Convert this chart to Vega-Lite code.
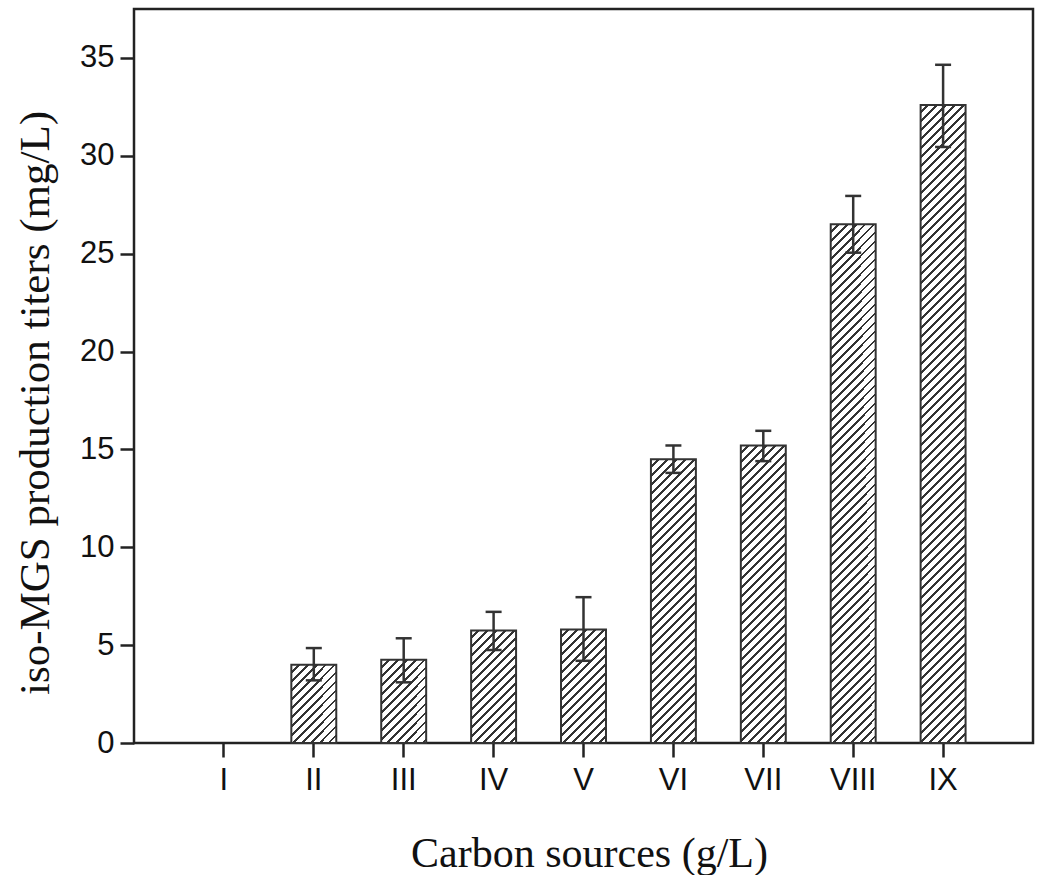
{
"$schema":"https://vega.github.io/schema/vega-lite/v6.json",
"autosize":{"type":"none"},
"padding":{"left":134,"top":9,"right":17,"bottom":132},
"width":899,
"height":734,
"background":"white",
"data":{"values":[
{"cat":"I","value":0,"low":null,"high":null},
{"cat":"II","value":4.0,"low":3.2,"high":4.85},
{"cat":"III","value":4.25,"low":3.1,"high":5.35},
{"cat":"IV","value":5.75,"low":4.75,"high":6.7},
{"cat":"V","value":5.8,"low":4.2,"high":7.45},
{"cat":"VI","value":14.5,"low":13.8,"high":15.2},
{"cat":"VII","value":15.2,"low":14.4,"high":15.95},
{"cat":"VIII","value":26.5,"low":25.05,"high":27.95},
{"cat":"IX","value":32.6,"low":30.45,"high":34.65}
]},
"encoding":{
"x":{"field":"cat","type":"nominal","sort":null,"scale":{"domain":["I","II","III","IV","V","VI","VII","VIII","IX"],"paddingInner":0.5,"paddingOuter":0.75},
"axis":{"title":"Carbon sources (g/L)","labelAngle":0,"titleX":455,"titleY":123,"titleBaseline":"alphabetic","titleAlign":"center","labelPadding":8}},
"y":{"field":"value","type":"quantitative","scale":{"domain":[0,37.5],"nice":false},
"axis":{"title":"iso-MGS production titers (mg/L)","values":[0,5,10,15,20,25,30,35],"titleX":-86,"titleY":393.5,"titleBaseline":"alphabetic","titleAlign":"center","titleFontSize":43,"labelPadding":6}}
},
"layer":[
{"transform":[{"filter":"datum.cat==='II'"}],"mark":{"type":"bar","stroke":"#333","strokeWidth":2,"fill":{"gradient":"linear","x1":0,"y1":0,"x2":3.973,"y2":6.913,"stops":[
{"offset":0,"color":"#fff"},{"offset":0.00875,"color":"#fff"},{"offset":0.00875,"color":"#333"},{"offset":0.0125,"color":"#333"},
{"offset":0.0125,"color":"#fff"},{"offset":0.02125,"color":"#fff"},{"offset":0.02125,"color":"#333"},{"offset":0.025,"color":"#333"},
{"offset":0.025,"color":"#fff"},{"offset":0.03375,"color":"#fff"},{"offset":0.03375,"color":"#333"},{"offset":0.0375,"color":"#333"},
{"offset":0.0375,"color":"#fff"},{"offset":0.04625,"color":"#fff"},{"offset":0.04625,"color":"#333"},{"offset":0.05,"color":"#333"},
{"offset":0.05,"color":"#fff"},{"offset":0.05875,"color":"#fff"},{"offset":0.05875,"color":"#333"},{"offset":0.0625,"color":"#333"},
{"offset":0.0625,"color":"#fff"},{"offset":0.07125,"color":"#fff"},{"offset":0.07125,"color":"#333"},{"offset":0.075,"color":"#333"},
{"offset":0.075,"color":"#fff"},{"offset":0.08375,"color":"#fff"},{"offset":0.08375,"color":"#333"},{"offset":0.0875,"color":"#333"},
{"offset":0.0875,"color":"#fff"},{"offset":0.09625,"color":"#fff"},{"offset":0.09625,"color":"#333"},{"offset":0.1,"color":"#333"},
{"offset":0.1,"color":"#fff"},{"offset":0.10875,"color":"#fff"},{"offset":0.10875,"color":"#333"},{"offset":0.1125,"color":"#333"},
{"offset":0.1125,"color":"#fff"},{"offset":0.12125,"color":"#fff"},{"offset":0.12125,"color":"#333"},{"offset":0.125,"color":"#333"},
{"offset":0.125,"color":"#fff"},{"offset":0.13375,"color":"#fff"},{"offset":0.13375,"color":"#333"},{"offset":0.1375,"color":"#333"},
{"offset":0.1375,"color":"#fff"},{"offset":0.14625,"color":"#fff"},{"offset":0.14625,"color":"#333"},{"offset":0.15,"color":"#333"},
{"offset":0.15,"color":"#fff"},{"offset":0.15875,"color":"#fff"},{"offset":0.15875,"color":"#333"},{"offset":0.1625,"color":"#333"},
{"offset":0.1625,"color":"#fff"},{"offset":0.17125,"color":"#fff"},{"offset":0.17125,"color":"#333"},{"offset":0.175,"color":"#333"}
]}}},
{"transform":[{"filter":"datum.cat==='III'"}],"mark":{"type":"bar","stroke":"#333","strokeWidth":2,"fill":{"gradient":"linear","x1":0,"y1":0,"x2":3.622,"y2":6.696,"stops":[
{"offset":0,"color":"#fff"},{"offset":0.00875,"color":"#fff"},{"offset":0.00875,"color":"#333"},{"offset":0.0125,"color":"#333"},
{"offset":0.0125,"color":"#fff"},{"offset":0.02125,"color":"#fff"},{"offset":0.02125,"color":"#333"},{"offset":0.025,"color":"#333"},
{"offset":0.025,"color":"#fff"},{"offset":0.03375,"color":"#fff"},{"offset":0.03375,"color":"#333"},{"offset":0.0375,"color":"#333"},
{"offset":0.0375,"color":"#fff"},{"offset":0.04625,"color":"#fff"},{"offset":0.04625,"color":"#333"},{"offset":0.05,"color":"#333"},
{"offset":0.05,"color":"#fff"},{"offset":0.05875,"color":"#fff"},{"offset":0.05875,"color":"#333"},{"offset":0.0625,"color":"#333"},
{"offset":0.0625,"color":"#fff"},{"offset":0.07125,"color":"#fff"},{"offset":0.07125,"color":"#333"},{"offset":0.075,"color":"#333"},
{"offset":0.075,"color":"#fff"},{"offset":0.08375,"color":"#fff"},{"offset":0.08375,"color":"#333"},{"offset":0.0875,"color":"#333"},
{"offset":0.0875,"color":"#fff"},{"offset":0.09625,"color":"#fff"},{"offset":0.09625,"color":"#333"},{"offset":0.1,"color":"#333"},
{"offset":0.1,"color":"#fff"},{"offset":0.10875,"color":"#fff"},{"offset":0.10875,"color":"#333"},{"offset":0.1125,"color":"#333"},
{"offset":0.1125,"color":"#fff"},{"offset":0.12125,"color":"#fff"},{"offset":0.12125,"color":"#333"},{"offset":0.125,"color":"#333"},
{"offset":0.125,"color":"#fff"},{"offset":0.13375,"color":"#fff"},{"offset":0.13375,"color":"#333"},{"offset":0.1375,"color":"#333"},
{"offset":0.1375,"color":"#fff"},{"offset":0.14625,"color":"#fff"},{"offset":0.14625,"color":"#333"},{"offset":0.15,"color":"#333"},
{"offset":0.15,"color":"#fff"},{"offset":0.15875,"color":"#fff"},{"offset":0.15875,"color":"#333"},{"offset":0.1625,"color":"#333"},
{"offset":0.1625,"color":"#fff"},{"offset":0.17125,"color":"#fff"},{"offset":0.17125,"color":"#333"},{"offset":0.175,"color":"#333"},
{"offset":0.175,"color":"#fff"},{"offset":0.18375,"color":"#fff"},{"offset":0.18375,"color":"#333"},{"offset":0.1875,"color":"#333"}
]}}},
{"transform":[{"filter":"datum.cat==='IV'"}],"mark":{"type":"bar","stroke":"#333","strokeWidth":2,"fill":{"gradient":"linear","x1":0,"y1":0,"x2":2.2053,"y2":5.5157,"stops":[
{"offset":0,"color":"#fff"},{"offset":0.00875,"color":"#fff"},{"offset":0.00875,"color":"#333"},{"offset":0.0125,"color":"#333"},
{"offset":0.0125,"color":"#fff"},{"offset":0.02125,"color":"#fff"},{"offset":0.02125,"color":"#333"},{"offset":0.025,"color":"#333"},
{"offset":0.025,"color":"#fff"},{"offset":0.03375,"color":"#fff"},{"offset":0.03375,"color":"#333"},{"offset":0.0375,"color":"#333"},
{"offset":0.0375,"color":"#fff"},{"offset":0.04625,"color":"#fff"},{"offset":0.04625,"color":"#333"},{"offset":0.05,"color":"#333"},
{"offset":0.05,"color":"#fff"},{"offset":0.05875,"color":"#fff"},{"offset":0.05875,"color":"#333"},{"offset":0.0625,"color":"#333"},
{"offset":0.0625,"color":"#fff"},{"offset":0.07125,"color":"#fff"},{"offset":0.07125,"color":"#333"},{"offset":0.075,"color":"#333"},
{"offset":0.075,"color":"#fff"},{"offset":0.08375,"color":"#fff"},{"offset":0.08375,"color":"#333"},{"offset":0.0875,"color":"#333"},
{"offset":0.0875,"color":"#fff"},{"offset":0.09625,"color":"#fff"},{"offset":0.09625,"color":"#333"},{"offset":0.1,"color":"#333"},
{"offset":0.1,"color":"#fff"},{"offset":0.10875,"color":"#fff"},{"offset":0.10875,"color":"#333"},{"offset":0.1125,"color":"#333"},
{"offset":0.1125,"color":"#fff"},{"offset":0.12125,"color":"#fff"},{"offset":0.12125,"color":"#333"},{"offset":0.125,"color":"#333"},
{"offset":0.125,"color":"#fff"},{"offset":0.13375,"color":"#fff"},{"offset":0.13375,"color":"#333"},{"offset":0.1375,"color":"#333"},
{"offset":0.1375,"color":"#fff"},{"offset":0.14625,"color":"#fff"},{"offset":0.14625,"color":"#333"},{"offset":0.15,"color":"#333"},
{"offset":0.15,"color":"#fff"},{"offset":0.15875,"color":"#fff"},{"offset":0.15875,"color":"#333"},{"offset":0.1625,"color":"#333"},
{"offset":0.1625,"color":"#fff"},{"offset":0.17125,"color":"#fff"},{"offset":0.17125,"color":"#333"},{"offset":0.175,"color":"#333"},
{"offset":0.175,"color":"#fff"},{"offset":0.18375,"color":"#fff"},{"offset":0.18375,"color":"#333"},{"offset":0.1875,"color":"#333"},
{"offset":0.1875,"color":"#fff"},{"offset":0.19625,"color":"#fff"},{"offset":0.19625,"color":"#333"},{"offset":0.2,"color":"#333"},
{"offset":0.2,"color":"#fff"},{"offset":0.20875,"color":"#fff"},{"offset":0.20875,"color":"#333"},{"offset":0.2125,"color":"#333"},
{"offset":0.2125,"color":"#fff"},{"offset":0.22125,"color":"#fff"},{"offset":0.22125,"color":"#333"},{"offset":0.225,"color":"#333"}
]}}},
{"transform":[{"filter":"datum.cat==='V'"}],"mark":{"type":"bar","stroke":"#333","strokeWidth":2,"fill":{"gradient":"linear","x1":0,"y1":0,"x2":2.1727,"y2":5.4811,"stops":[
{"offset":0,"color":"#fff"},{"offset":0.00875,"color":"#fff"},{"offset":0.00875,"color":"#333"},{"offset":0.0125,"color":"#333"},
{"offset":0.0125,"color":"#fff"},{"offset":0.02125,"color":"#fff"},{"offset":0.02125,"color":"#333"},{"offset":0.025,"color":"#333"},
{"offset":0.025,"color":"#fff"},{"offset":0.03375,"color":"#fff"},{"offset":0.03375,"color":"#333"},{"offset":0.0375,"color":"#333"},
{"offset":0.0375,"color":"#fff"},{"offset":0.04625,"color":"#fff"},{"offset":0.04625,"color":"#333"},{"offset":0.05,"color":"#333"},
{"offset":0.05,"color":"#fff"},{"offset":0.05875,"color":"#fff"},{"offset":0.05875,"color":"#333"},{"offset":0.0625,"color":"#333"},
{"offset":0.0625,"color":"#fff"},{"offset":0.07125,"color":"#fff"},{"offset":0.07125,"color":"#333"},{"offset":0.075,"color":"#333"},
{"offset":0.075,"color":"#fff"},{"offset":0.08375,"color":"#fff"},{"offset":0.08375,"color":"#333"},{"offset":0.0875,"color":"#333"},
{"offset":0.0875,"color":"#fff"},{"offset":0.09625,"color":"#fff"},{"offset":0.09625,"color":"#333"},{"offset":0.1,"color":"#333"},
{"offset":0.1,"color":"#fff"},{"offset":0.10875,"color":"#fff"},{"offset":0.10875,"color":"#333"},{"offset":0.1125,"color":"#333"},
{"offset":0.1125,"color":"#fff"},{"offset":0.12125,"color":"#fff"},{"offset":0.12125,"color":"#333"},{"offset":0.125,"color":"#333"},
{"offset":0.125,"color":"#fff"},{"offset":0.13375,"color":"#fff"},{"offset":0.13375,"color":"#333"},{"offset":0.1375,"color":"#333"},
{"offset":0.1375,"color":"#fff"},{"offset":0.14625,"color":"#fff"},{"offset":0.14625,"color":"#333"},{"offset":0.15,"color":"#333"},
{"offset":0.15,"color":"#fff"},{"offset":0.15875,"color":"#fff"},{"offset":0.15875,"color":"#333"},{"offset":0.1625,"color":"#333"},
{"offset":0.1625,"color":"#fff"},{"offset":0.17125,"color":"#fff"},{"offset":0.17125,"color":"#333"},{"offset":0.175,"color":"#333"},
{"offset":0.175,"color":"#fff"},{"offset":0.18375,"color":"#fff"},{"offset":0.18375,"color":"#333"},{"offset":0.1875,"color":"#333"},
{"offset":0.1875,"color":"#fff"},{"offset":0.19625,"color":"#fff"},{"offset":0.19625,"color":"#333"},{"offset":0.2,"color":"#333"},
{"offset":0.2,"color":"#fff"},{"offset":0.20875,"color":"#fff"},{"offset":0.20875,"color":"#333"},{"offset":0.2125,"color":"#333"},
{"offset":0.2125,"color":"#fff"},{"offset":0.22125,"color":"#fff"},{"offset":0.22125,"color":"#333"},{"offset":0.225,"color":"#333"}
]}}},
{"transform":[{"filter":"datum.cat==='VI'"}],"mark":{"type":"bar","stroke":"#333","strokeWidth":2,"fill":{"gradient":"linear","x1":0,"y1":0,"x2":0.39238,"y2":2.4747,"stops":[
{"offset":0,"color":"#fff"},{"offset":0.00875,"color":"#fff"},{"offset":0.00875,"color":"#333"},{"offset":0.0125,"color":"#333"},
{"offset":0.0125,"color":"#fff"},{"offset":0.02125,"color":"#fff"},{"offset":0.02125,"color":"#333"},{"offset":0.025,"color":"#333"},
{"offset":0.025,"color":"#fff"},{"offset":0.03375,"color":"#fff"},{"offset":0.03375,"color":"#333"},{"offset":0.0375,"color":"#333"},
{"offset":0.0375,"color":"#fff"},{"offset":0.04625,"color":"#fff"},{"offset":0.04625,"color":"#333"},{"offset":0.05,"color":"#333"},
{"offset":0.05,"color":"#fff"},{"offset":0.05875,"color":"#fff"},{"offset":0.05875,"color":"#333"},{"offset":0.0625,"color":"#333"},
{"offset":0.0625,"color":"#fff"},{"offset":0.07125,"color":"#fff"},{"offset":0.07125,"color":"#333"},{"offset":0.075,"color":"#333"},
{"offset":0.075,"color":"#fff"},{"offset":0.08375,"color":"#fff"},{"offset":0.08375,"color":"#333"},{"offset":0.0875,"color":"#333"},
{"offset":0.0875,"color":"#fff"},{"offset":0.09625,"color":"#fff"},{"offset":0.09625,"color":"#333"},{"offset":0.1,"color":"#333"},
{"offset":0.1,"color":"#fff"},{"offset":0.10875,"color":"#fff"},{"offset":0.10875,"color":"#333"},{"offset":0.1125,"color":"#333"},
{"offset":0.1125,"color":"#fff"},{"offset":0.12125,"color":"#fff"},{"offset":0.12125,"color":"#333"},{"offset":0.125,"color":"#333"},
{"offset":0.125,"color":"#fff"},{"offset":0.13375,"color":"#fff"},{"offset":0.13375,"color":"#333"},{"offset":0.1375,"color":"#333"},
{"offset":0.1375,"color":"#fff"},{"offset":0.14625,"color":"#fff"},{"offset":0.14625,"color":"#333"},{"offset":0.15,"color":"#333"},
{"offset":0.15,"color":"#fff"},{"offset":0.15875,"color":"#fff"},{"offset":0.15875,"color":"#333"},{"offset":0.1625,"color":"#333"},
{"offset":0.1625,"color":"#fff"},{"offset":0.17125,"color":"#fff"},{"offset":0.17125,"color":"#333"},{"offset":0.175,"color":"#333"},
{"offset":0.175,"color":"#fff"},{"offset":0.18375,"color":"#fff"},{"offset":0.18375,"color":"#333"},{"offset":0.1875,"color":"#333"},
{"offset":0.1875,"color":"#fff"},{"offset":0.19625,"color":"#fff"},{"offset":0.19625,"color":"#333"},{"offset":0.2,"color":"#333"},
{"offset":0.2,"color":"#fff"},{"offset":0.20875,"color":"#fff"},{"offset":0.20875,"color":"#333"},{"offset":0.2125,"color":"#333"},
{"offset":0.2125,"color":"#fff"},{"offset":0.22125,"color":"#fff"},{"offset":0.22125,"color":"#333"},{"offset":0.225,"color":"#333"},
{"offset":0.225,"color":"#fff"},{"offset":0.23375,"color":"#fff"},{"offset":0.23375,"color":"#333"},{"offset":0.2375,"color":"#333"},
{"offset":0.2375,"color":"#fff"},{"offset":0.24625,"color":"#fff"},{"offset":0.24625,"color":"#333"},{"offset":0.25,"color":"#333"},
{"offset":0.25,"color":"#fff"},{"offset":0.25875,"color":"#fff"},{"offset":0.25875,"color":"#333"},{"offset":0.2625,"color":"#333"},
{"offset":0.2625,"color":"#fff"},{"offset":0.27125,"color":"#fff"},{"offset":0.27125,"color":"#333"},{"offset":0.275,"color":"#333"},
{"offset":0.275,"color":"#fff"},{"offset":0.28375,"color":"#fff"},{"offset":0.28375,"color":"#333"},{"offset":0.2875,"color":"#333"},
{"offset":0.2875,"color":"#fff"},{"offset":0.29625,"color":"#fff"},{"offset":0.29625,"color":"#333"},{"offset":0.3,"color":"#333"},
{"offset":0.3,"color":"#fff"},{"offset":0.30875,"color":"#fff"},{"offset":0.30875,"color":"#333"},{"offset":0.3125,"color":"#333"},
{"offset":0.3125,"color":"#fff"},{"offset":0.32125,"color":"#fff"},{"offset":0.32125,"color":"#333"},{"offset":0.325,"color":"#333"},
{"offset":0.325,"color":"#fff"},{"offset":0.33375,"color":"#fff"},{"offset":0.33375,"color":"#333"},{"offset":0.3375,"color":"#333"},
{"offset":0.3375,"color":"#fff"},{"offset":0.34625,"color":"#fff"},{"offset":0.34625,"color":"#333"},{"offset":0.35,"color":"#333"},
{"offset":0.35,"color":"#fff"},{"offset":0.35875,"color":"#fff"},{"offset":0.35875,"color":"#333"},{"offset":0.3625,"color":"#333"},
{"offset":0.3625,"color":"#fff"},{"offset":0.37125,"color":"#fff"},{"offset":0.37125,"color":"#333"},{"offset":0.375,"color":"#333"},
{"offset":0.375,"color":"#fff"},{"offset":0.38375,"color":"#fff"},{"offset":0.38375,"color":"#333"},{"offset":0.3875,"color":"#333"},
{"offset":0.3875,"color":"#fff"},{"offset":0.39625,"color":"#fff"},{"offset":0.39625,"color":"#333"},{"offset":0.4,"color":"#333"},
{"offset":0.4,"color":"#fff"},{"offset":0.40875,"color":"#fff"},{"offset":0.40875,"color":"#333"},{"offset":0.4125,"color":"#333"},
{"offset":0.4125,"color":"#fff"},{"offset":0.42125,"color":"#fff"},{"offset":0.42125,"color":"#333"},{"offset":0.425,"color":"#333"},
{"offset":0.425,"color":"#fff"},{"offset":0.43375,"color":"#fff"},{"offset":0.43375,"color":"#333"},{"offset":0.4375,"color":"#333"},
{"offset":0.4375,"color":"#fff"},{"offset":0.44625,"color":"#fff"},{"offset":0.44625,"color":"#333"},{"offset":0.45,"color":"#333"},
{"offset":0.45,"color":"#fff"},{"offset":0.45875,"color":"#fff"},{"offset":0.45875,"color":"#333"},{"offset":0.4625,"color":"#333"}
]}}},
{"transform":[{"filter":"datum.cat==='VII'"}],"mark":{"type":"bar","stroke":"#333","strokeWidth":2,"fill":{"gradient":"linear","x1":0,"y1":0,"x2":0.35787,"y2":2.366,"stops":[
{"offset":0,"color":"#fff"},{"offset":0.00875,"color":"#fff"},{"offset":0.00875,"color":"#333"},{"offset":0.0125,"color":"#333"},
{"offset":0.0125,"color":"#fff"},{"offset":0.02125,"color":"#fff"},{"offset":0.02125,"color":"#333"},{"offset":0.025,"color":"#333"},
{"offset":0.025,"color":"#fff"},{"offset":0.03375,"color":"#fff"},{"offset":0.03375,"color":"#333"},{"offset":0.0375,"color":"#333"},
{"offset":0.0375,"color":"#fff"},{"offset":0.04625,"color":"#fff"},{"offset":0.04625,"color":"#333"},{"offset":0.05,"color":"#333"},
{"offset":0.05,"color":"#fff"},{"offset":0.05875,"color":"#fff"},{"offset":0.05875,"color":"#333"},{"offset":0.0625,"color":"#333"},
{"offset":0.0625,"color":"#fff"},{"offset":0.07125,"color":"#fff"},{"offset":0.07125,"color":"#333"},{"offset":0.075,"color":"#333"},
{"offset":0.075,"color":"#fff"},{"offset":0.08375,"color":"#fff"},{"offset":0.08375,"color":"#333"},{"offset":0.0875,"color":"#333"},
{"offset":0.0875,"color":"#fff"},{"offset":0.09625,"color":"#fff"},{"offset":0.09625,"color":"#333"},{"offset":0.1,"color":"#333"},
{"offset":0.1,"color":"#fff"},{"offset":0.10875,"color":"#fff"},{"offset":0.10875,"color":"#333"},{"offset":0.1125,"color":"#333"},
{"offset":0.1125,"color":"#fff"},{"offset":0.12125,"color":"#fff"},{"offset":0.12125,"color":"#333"},{"offset":0.125,"color":"#333"},
{"offset":0.125,"color":"#fff"},{"offset":0.13375,"color":"#fff"},{"offset":0.13375,"color":"#333"},{"offset":0.1375,"color":"#333"},
{"offset":0.1375,"color":"#fff"},{"offset":0.14625,"color":"#fff"},{"offset":0.14625,"color":"#333"},{"offset":0.15,"color":"#333"},
{"offset":0.15,"color":"#fff"},{"offset":0.15875,"color":"#fff"},{"offset":0.15875,"color":"#333"},{"offset":0.1625,"color":"#333"},
{"offset":0.1625,"color":"#fff"},{"offset":0.17125,"color":"#fff"},{"offset":0.17125,"color":"#333"},{"offset":0.175,"color":"#333"},
{"offset":0.175,"color":"#fff"},{"offset":0.18375,"color":"#fff"},{"offset":0.18375,"color":"#333"},{"offset":0.1875,"color":"#333"},
{"offset":0.1875,"color":"#fff"},{"offset":0.19625,"color":"#fff"},{"offset":0.19625,"color":"#333"},{"offset":0.2,"color":"#333"},
{"offset":0.2,"color":"#fff"},{"offset":0.20875,"color":"#fff"},{"offset":0.20875,"color":"#333"},{"offset":0.2125,"color":"#333"},
{"offset":0.2125,"color":"#fff"},{"offset":0.22125,"color":"#fff"},{"offset":0.22125,"color":"#333"},{"offset":0.225,"color":"#333"},
{"offset":0.225,"color":"#fff"},{"offset":0.23375,"color":"#fff"},{"offset":0.23375,"color":"#333"},{"offset":0.2375,"color":"#333"},
{"offset":0.2375,"color":"#fff"},{"offset":0.24625,"color":"#fff"},{"offset":0.24625,"color":"#333"},{"offset":0.25,"color":"#333"},
{"offset":0.25,"color":"#fff"},{"offset":0.25875,"color":"#fff"},{"offset":0.25875,"color":"#333"},{"offset":0.2625,"color":"#333"},
{"offset":0.2625,"color":"#fff"},{"offset":0.27125,"color":"#fff"},{"offset":0.27125,"color":"#333"},{"offset":0.275,"color":"#333"},
{"offset":0.275,"color":"#fff"},{"offset":0.28375,"color":"#fff"},{"offset":0.28375,"color":"#333"},{"offset":0.2875,"color":"#333"},
{"offset":0.2875,"color":"#fff"},{"offset":0.29625,"color":"#fff"},{"offset":0.29625,"color":"#333"},{"offset":0.3,"color":"#333"},
{"offset":0.3,"color":"#fff"},{"offset":0.30875,"color":"#fff"},{"offset":0.30875,"color":"#333"},{"offset":0.3125,"color":"#333"},
{"offset":0.3125,"color":"#fff"},{"offset":0.32125,"color":"#fff"},{"offset":0.32125,"color":"#333"},{"offset":0.325,"color":"#333"},
{"offset":0.325,"color":"#fff"},{"offset":0.33375,"color":"#fff"},{"offset":0.33375,"color":"#333"},{"offset":0.3375,"color":"#333"},
{"offset":0.3375,"color":"#fff"},{"offset":0.34625,"color":"#fff"},{"offset":0.34625,"color":"#333"},{"offset":0.35,"color":"#333"},
{"offset":0.35,"color":"#fff"},{"offset":0.35875,"color":"#fff"},{"offset":0.35875,"color":"#333"},{"offset":0.3625,"color":"#333"},
{"offset":0.3625,"color":"#fff"},{"offset":0.37125,"color":"#fff"},{"offset":0.37125,"color":"#333"},{"offset":0.375,"color":"#333"},
{"offset":0.375,"color":"#fff"},{"offset":0.38375,"color":"#fff"},{"offset":0.38375,"color":"#333"},{"offset":0.3875,"color":"#333"},
{"offset":0.3875,"color":"#fff"},{"offset":0.39625,"color":"#fff"},{"offset":0.39625,"color":"#333"},{"offset":0.4,"color":"#333"},
{"offset":0.4,"color":"#fff"},{"offset":0.40875,"color":"#fff"},{"offset":0.40875,"color":"#333"},{"offset":0.4125,"color":"#333"},
{"offset":0.4125,"color":"#fff"},{"offset":0.42125,"color":"#fff"},{"offset":0.42125,"color":"#333"},{"offset":0.425,"color":"#333"},
{"offset":0.425,"color":"#fff"},{"offset":0.43375,"color":"#fff"},{"offset":0.43375,"color":"#333"},{"offset":0.4375,"color":"#333"},
{"offset":0.4375,"color":"#fff"},{"offset":0.44625,"color":"#fff"},{"offset":0.44625,"color":"#333"},{"offset":0.45,"color":"#333"},
{"offset":0.45,"color":"#fff"},{"offset":0.45875,"color":"#fff"},{"offset":0.45875,"color":"#333"},{"offset":0.4625,"color":"#333"},
{"offset":0.4625,"color":"#fff"},{"offset":0.47125,"color":"#fff"},{"offset":0.47125,"color":"#333"},{"offset":0.475,"color":"#333"},
{"offset":0.475,"color":"#fff"},{"offset":0.48375,"color":"#fff"},{"offset":0.48375,"color":"#333"},{"offset":0.4875,"color":"#333"}
]}}},
{"transform":[{"filter":"datum.cat==='VIII'"}],"mark":{"type":"bar","stroke":"#333","strokeWidth":2,"fill":{"gradient":"linear","x1":0,"y1":0,"x2":0.11953,"y2":1.37777,"stops":[
{"offset":0,"color":"#fff"},{"offset":0.00875,"color":"#fff"},{"offset":0.00875,"color":"#333"},{"offset":0.0125,"color":"#333"},
{"offset":0.0125,"color":"#fff"},{"offset":0.02125,"color":"#fff"},{"offset":0.02125,"color":"#333"},{"offset":0.025,"color":"#333"},
{"offset":0.025,"color":"#fff"},{"offset":0.03375,"color":"#fff"},{"offset":0.03375,"color":"#333"},{"offset":0.0375,"color":"#333"},
{"offset":0.0375,"color":"#fff"},{"offset":0.04625,"color":"#fff"},{"offset":0.04625,"color":"#333"},{"offset":0.05,"color":"#333"},
{"offset":0.05,"color":"#fff"},{"offset":0.05875,"color":"#fff"},{"offset":0.05875,"color":"#333"},{"offset":0.0625,"color":"#333"},
{"offset":0.0625,"color":"#fff"},{"offset":0.07125,"color":"#fff"},{"offset":0.07125,"color":"#333"},{"offset":0.075,"color":"#333"},
{"offset":0.075,"color":"#fff"},{"offset":0.08375,"color":"#fff"},{"offset":0.08375,"color":"#333"},{"offset":0.0875,"color":"#333"},
{"offset":0.0875,"color":"#fff"},{"offset":0.09625,"color":"#fff"},{"offset":0.09625,"color":"#333"},{"offset":0.1,"color":"#333"},
{"offset":0.1,"color":"#fff"},{"offset":0.10875,"color":"#fff"},{"offset":0.10875,"color":"#333"},{"offset":0.1125,"color":"#333"},
{"offset":0.1125,"color":"#fff"},{"offset":0.12125,"color":"#fff"},{"offset":0.12125,"color":"#333"},{"offset":0.125,"color":"#333"},
{"offset":0.125,"color":"#fff"},{"offset":0.13375,"color":"#fff"},{"offset":0.13375,"color":"#333"},{"offset":0.1375,"color":"#333"},
{"offset":0.1375,"color":"#fff"},{"offset":0.14625,"color":"#fff"},{"offset":0.14625,"color":"#333"},{"offset":0.15,"color":"#333"},
{"offset":0.15,"color":"#fff"},{"offset":0.15875,"color":"#fff"},{"offset":0.15875,"color":"#333"},{"offset":0.1625,"color":"#333"},
{"offset":0.1625,"color":"#fff"},{"offset":0.17125,"color":"#fff"},{"offset":0.17125,"color":"#333"},{"offset":0.175,"color":"#333"},
{"offset":0.175,"color":"#fff"},{"offset":0.18375,"color":"#fff"},{"offset":0.18375,"color":"#333"},{"offset":0.1875,"color":"#333"},
{"offset":0.1875,"color":"#fff"},{"offset":0.19625,"color":"#fff"},{"offset":0.19625,"color":"#333"},{"offset":0.2,"color":"#333"},
{"offset":0.2,"color":"#fff"},{"offset":0.20875,"color":"#fff"},{"offset":0.20875,"color":"#333"},{"offset":0.2125,"color":"#333"},
{"offset":0.2125,"color":"#fff"},{"offset":0.22125,"color":"#fff"},{"offset":0.22125,"color":"#333"},{"offset":0.225,"color":"#333"},
{"offset":0.225,"color":"#fff"},{"offset":0.23375,"color":"#fff"},{"offset":0.23375,"color":"#333"},{"offset":0.2375,"color":"#333"},
{"offset":0.2375,"color":"#fff"},{"offset":0.24625,"color":"#fff"},{"offset":0.24625,"color":"#333"},{"offset":0.25,"color":"#333"},
{"offset":0.25,"color":"#fff"},{"offset":0.25875,"color":"#fff"},{"offset":0.25875,"color":"#333"},{"offset":0.2625,"color":"#333"},
{"offset":0.2625,"color":"#fff"},{"offset":0.27125,"color":"#fff"},{"offset":0.27125,"color":"#333"},{"offset":0.275,"color":"#333"},
{"offset":0.275,"color":"#fff"},{"offset":0.28375,"color":"#fff"},{"offset":0.28375,"color":"#333"},{"offset":0.2875,"color":"#333"},
{"offset":0.2875,"color":"#fff"},{"offset":0.29625,"color":"#fff"},{"offset":0.29625,"color":"#333"},{"offset":0.3,"color":"#333"},
{"offset":0.3,"color":"#fff"},{"offset":0.30875,"color":"#fff"},{"offset":0.30875,"color":"#333"},{"offset":0.3125,"color":"#333"},
{"offset":0.3125,"color":"#fff"},{"offset":0.32125,"color":"#fff"},{"offset":0.32125,"color":"#333"},{"offset":0.325,"color":"#333"},
{"offset":0.325,"color":"#fff"},{"offset":0.33375,"color":"#fff"},{"offset":0.33375,"color":"#333"},{"offset":0.3375,"color":"#333"},
{"offset":0.3375,"color":"#fff"},{"offset":0.34625,"color":"#fff"},{"offset":0.34625,"color":"#333"},{"offset":0.35,"color":"#333"},
{"offset":0.35,"color":"#fff"},{"offset":0.35875,"color":"#fff"},{"offset":0.35875,"color":"#333"},{"offset":0.3625,"color":"#333"},
{"offset":0.3625,"color":"#fff"},{"offset":0.37125,"color":"#fff"},{"offset":0.37125,"color":"#333"},{"offset":0.375,"color":"#333"},
{"offset":0.375,"color":"#fff"},{"offset":0.38375,"color":"#fff"},{"offset":0.38375,"color":"#333"},{"offset":0.3875,"color":"#333"},
{"offset":0.3875,"color":"#fff"},{"offset":0.39625,"color":"#fff"},{"offset":0.39625,"color":"#333"},{"offset":0.4,"color":"#333"},
{"offset":0.4,"color":"#fff"},{"offset":0.40875,"color":"#fff"},{"offset":0.40875,"color":"#333"},{"offset":0.4125,"color":"#333"},
{"offset":0.4125,"color":"#fff"},{"offset":0.42125,"color":"#fff"},{"offset":0.42125,"color":"#333"},{"offset":0.425,"color":"#333"},
{"offset":0.425,"color":"#fff"},{"offset":0.43375,"color":"#fff"},{"offset":0.43375,"color":"#333"},{"offset":0.4375,"color":"#333"},
{"offset":0.4375,"color":"#fff"},{"offset":0.44625,"color":"#fff"},{"offset":0.44625,"color":"#333"},{"offset":0.45,"color":"#333"},
{"offset":0.45,"color":"#fff"},{"offset":0.45875,"color":"#fff"},{"offset":0.45875,"color":"#333"},{"offset":0.4625,"color":"#333"},
{"offset":0.4625,"color":"#fff"},{"offset":0.47125,"color":"#fff"},{"offset":0.47125,"color":"#333"},{"offset":0.475,"color":"#333"},
{"offset":0.475,"color":"#fff"},{"offset":0.48375,"color":"#fff"},{"offset":0.48375,"color":"#333"},{"offset":0.4875,"color":"#333"},
{"offset":0.4875,"color":"#fff"},{"offset":0.49625,"color":"#fff"},{"offset":0.49625,"color":"#333"},{"offset":0.5,"color":"#333"},
{"offset":0.5,"color":"#fff"},{"offset":0.50875,"color":"#fff"},{"offset":0.50875,"color":"#333"},{"offset":0.5125,"color":"#333"},
{"offset":0.5125,"color":"#fff"},{"offset":0.52125,"color":"#fff"},{"offset":0.52125,"color":"#333"},{"offset":0.525,"color":"#333"},
{"offset":0.525,"color":"#fff"},{"offset":0.53375,"color":"#fff"},{"offset":0.53375,"color":"#333"},{"offset":0.5375,"color":"#333"},
{"offset":0.5375,"color":"#fff"},{"offset":0.54625,"color":"#fff"},{"offset":0.54625,"color":"#333"},{"offset":0.55,"color":"#333"},
{"offset":0.55,"color":"#fff"},{"offset":0.55875,"color":"#fff"},{"offset":0.55875,"color":"#333"},{"offset":0.5625,"color":"#333"},
{"offset":0.5625,"color":"#fff"},{"offset":0.57125,"color":"#fff"},{"offset":0.57125,"color":"#333"},{"offset":0.575,"color":"#333"},
{"offset":0.575,"color":"#fff"},{"offset":0.58375,"color":"#fff"},{"offset":0.58375,"color":"#333"},{"offset":0.5875,"color":"#333"},
{"offset":0.5875,"color":"#fff"},{"offset":0.59625,"color":"#fff"},{"offset":0.59625,"color":"#333"},{"offset":0.6,"color":"#333"},
{"offset":0.6,"color":"#fff"},{"offset":0.60875,"color":"#fff"},{"offset":0.60875,"color":"#333"},{"offset":0.6125,"color":"#333"},
{"offset":0.6125,"color":"#fff"},{"offset":0.62125,"color":"#fff"},{"offset":0.62125,"color":"#333"},{"offset":0.625,"color":"#333"},
{"offset":0.625,"color":"#fff"},{"offset":0.63375,"color":"#fff"},{"offset":0.63375,"color":"#333"},{"offset":0.6375,"color":"#333"},
{"offset":0.6375,"color":"#fff"},{"offset":0.64625,"color":"#fff"},{"offset":0.64625,"color":"#333"},{"offset":0.65,"color":"#333"},
{"offset":0.65,"color":"#fff"},{"offset":0.65875,"color":"#fff"},{"offset":0.65875,"color":"#333"},{"offset":0.6625,"color":"#333"},
{"offset":0.6625,"color":"#fff"},{"offset":0.67125,"color":"#fff"},{"offset":0.67125,"color":"#333"},{"offset":0.675,"color":"#333"},
{"offset":0.675,"color":"#fff"},{"offset":0.68375,"color":"#fff"},{"offset":0.68375,"color":"#333"},{"offset":0.6875,"color":"#333"},
{"offset":0.6875,"color":"#fff"},{"offset":0.69625,"color":"#fff"},{"offset":0.69625,"color":"#333"},{"offset":0.7,"color":"#333"},
{"offset":0.7,"color":"#fff"},{"offset":0.70875,"color":"#fff"},{"offset":0.70875,"color":"#333"},{"offset":0.7125,"color":"#333"},
{"offset":0.7125,"color":"#fff"},{"offset":0.72125,"color":"#fff"},{"offset":0.72125,"color":"#333"},{"offset":0.725,"color":"#333"},
{"offset":0.725,"color":"#fff"},{"offset":0.73375,"color":"#fff"},{"offset":0.73375,"color":"#333"},{"offset":0.7375,"color":"#333"},
{"offset":0.7375,"color":"#fff"},{"offset":0.74625,"color":"#fff"},{"offset":0.74625,"color":"#333"},{"offset":0.75,"color":"#333"},
{"offset":0.75,"color":"#fff"},{"offset":0.75875,"color":"#fff"},{"offset":0.75875,"color":"#333"},{"offset":0.7625,"color":"#333"},
{"offset":0.7625,"color":"#fff"},{"offset":0.77125,"color":"#fff"},{"offset":0.77125,"color":"#333"},{"offset":0.775,"color":"#333"},
{"offset":0.775,"color":"#fff"},{"offset":0.78375,"color":"#fff"},{"offset":0.78375,"color":"#333"},{"offset":0.7875,"color":"#333"}
]}}},
{"transform":[{"filter":"datum.cat==='IX'"}],"mark":{"type":"bar","stroke":"#333","strokeWidth":2,"fill":{"gradient":"linear","x1":0,"y1":0,"x2":0.079185,"y2":1.1228,"stops":[
{"offset":0,"color":"#fff"},{"offset":0.00875,"color":"#fff"},{"offset":0.00875,"color":"#333"},{"offset":0.0125,"color":"#333"},
{"offset":0.0125,"color":"#fff"},{"offset":0.02125,"color":"#fff"},{"offset":0.02125,"color":"#333"},{"offset":0.025,"color":"#333"},
{"offset":0.025,"color":"#fff"},{"offset":0.03375,"color":"#fff"},{"offset":0.03375,"color":"#333"},{"offset":0.0375,"color":"#333"},
{"offset":0.0375,"color":"#fff"},{"offset":0.04625,"color":"#fff"},{"offset":0.04625,"color":"#333"},{"offset":0.05,"color":"#333"},
{"offset":0.05,"color":"#fff"},{"offset":0.05875,"color":"#fff"},{"offset":0.05875,"color":"#333"},{"offset":0.0625,"color":"#333"},
{"offset":0.0625,"color":"#fff"},{"offset":0.07125,"color":"#fff"},{"offset":0.07125,"color":"#333"},{"offset":0.075,"color":"#333"},
{"offset":0.075,"color":"#fff"},{"offset":0.08375,"color":"#fff"},{"offset":0.08375,"color":"#333"},{"offset":0.0875,"color":"#333"},
{"offset":0.0875,"color":"#fff"},{"offset":0.09625,"color":"#fff"},{"offset":0.09625,"color":"#333"},{"offset":0.1,"color":"#333"},
{"offset":0.1,"color":"#fff"},{"offset":0.10875,"color":"#fff"},{"offset":0.10875,"color":"#333"},{"offset":0.1125,"color":"#333"},
{"offset":0.1125,"color":"#fff"},{"offset":0.12125,"color":"#fff"},{"offset":0.12125,"color":"#333"},{"offset":0.125,"color":"#333"},
{"offset":0.125,"color":"#fff"},{"offset":0.13375,"color":"#fff"},{"offset":0.13375,"color":"#333"},{"offset":0.1375,"color":"#333"},
{"offset":0.1375,"color":"#fff"},{"offset":0.14625,"color":"#fff"},{"offset":0.14625,"color":"#333"},{"offset":0.15,"color":"#333"},
{"offset":0.15,"color":"#fff"},{"offset":0.15875,"color":"#fff"},{"offset":0.15875,"color":"#333"},{"offset":0.1625,"color":"#333"},
{"offset":0.1625,"color":"#fff"},{"offset":0.17125,"color":"#fff"},{"offset":0.17125,"color":"#333"},{"offset":0.175,"color":"#333"},
{"offset":0.175,"color":"#fff"},{"offset":0.18375,"color":"#fff"},{"offset":0.18375,"color":"#333"},{"offset":0.1875,"color":"#333"},
{"offset":0.1875,"color":"#fff"},{"offset":0.19625,"color":"#fff"},{"offset":0.19625,"color":"#333"},{"offset":0.2,"color":"#333"},
{"offset":0.2,"color":"#fff"},{"offset":0.20875,"color":"#fff"},{"offset":0.20875,"color":"#333"},{"offset":0.2125,"color":"#333"},
{"offset":0.2125,"color":"#fff"},{"offset":0.22125,"color":"#fff"},{"offset":0.22125,"color":"#333"},{"offset":0.225,"color":"#333"},
{"offset":0.225,"color":"#fff"},{"offset":0.23375,"color":"#fff"},{"offset":0.23375,"color":"#333"},{"offset":0.2375,"color":"#333"},
{"offset":0.2375,"color":"#fff"},{"offset":0.24625,"color":"#fff"},{"offset":0.24625,"color":"#333"},{"offset":0.25,"color":"#333"},
{"offset":0.25,"color":"#fff"},{"offset":0.25875,"color":"#fff"},{"offset":0.25875,"color":"#333"},{"offset":0.2625,"color":"#333"},
{"offset":0.2625,"color":"#fff"},{"offset":0.27125,"color":"#fff"},{"offset":0.27125,"color":"#333"},{"offset":0.275,"color":"#333"},
{"offset":0.275,"color":"#fff"},{"offset":0.28375,"color":"#fff"},{"offset":0.28375,"color":"#333"},{"offset":0.2875,"color":"#333"},
{"offset":0.2875,"color":"#fff"},{"offset":0.29625,"color":"#fff"},{"offset":0.29625,"color":"#333"},{"offset":0.3,"color":"#333"},
{"offset":0.3,"color":"#fff"},{"offset":0.30875,"color":"#fff"},{"offset":0.30875,"color":"#333"},{"offset":0.3125,"color":"#333"},
{"offset":0.3125,"color":"#fff"},{"offset":0.32125,"color":"#fff"},{"offset":0.32125,"color":"#333"},{"offset":0.325,"color":"#333"},
{"offset":0.325,"color":"#fff"},{"offset":0.33375,"color":"#fff"},{"offset":0.33375,"color":"#333"},{"offset":0.3375,"color":"#333"},
{"offset":0.3375,"color":"#fff"},{"offset":0.34625,"color":"#fff"},{"offset":0.34625,"color":"#333"},{"offset":0.35,"color":"#333"},
{"offset":0.35,"color":"#fff"},{"offset":0.35875,"color":"#fff"},{"offset":0.35875,"color":"#333"},{"offset":0.3625,"color":"#333"},
{"offset":0.3625,"color":"#fff"},{"offset":0.37125,"color":"#fff"},{"offset":0.37125,"color":"#333"},{"offset":0.375,"color":"#333"},
{"offset":0.375,"color":"#fff"},{"offset":0.38375,"color":"#fff"},{"offset":0.38375,"color":"#333"},{"offset":0.3875,"color":"#333"},
{"offset":0.3875,"color":"#fff"},{"offset":0.39625,"color":"#fff"},{"offset":0.39625,"color":"#333"},{"offset":0.4,"color":"#333"},
{"offset":0.4,"color":"#fff"},{"offset":0.40875,"color":"#fff"},{"offset":0.40875,"color":"#333"},{"offset":0.4125,"color":"#333"},
{"offset":0.4125,"color":"#fff"},{"offset":0.42125,"color":"#fff"},{"offset":0.42125,"color":"#333"},{"offset":0.425,"color":"#333"},
{"offset":0.425,"color":"#fff"},{"offset":0.43375,"color":"#fff"},{"offset":0.43375,"color":"#333"},{"offset":0.4375,"color":"#333"},
{"offset":0.4375,"color":"#fff"},{"offset":0.44625,"color":"#fff"},{"offset":0.44625,"color":"#333"},{"offset":0.45,"color":"#333"},
{"offset":0.45,"color":"#fff"},{"offset":0.45875,"color":"#fff"},{"offset":0.45875,"color":"#333"},{"offset":0.4625,"color":"#333"},
{"offset":0.4625,"color":"#fff"},{"offset":0.47125,"color":"#fff"},{"offset":0.47125,"color":"#333"},{"offset":0.475,"color":"#333"},
{"offset":0.475,"color":"#fff"},{"offset":0.48375,"color":"#fff"},{"offset":0.48375,"color":"#333"},{"offset":0.4875,"color":"#333"},
{"offset":0.4875,"color":"#fff"},{"offset":0.49625,"color":"#fff"},{"offset":0.49625,"color":"#333"},{"offset":0.5,"color":"#333"},
{"offset":0.5,"color":"#fff"},{"offset":0.50875,"color":"#fff"},{"offset":0.50875,"color":"#333"},{"offset":0.5125,"color":"#333"},
{"offset":0.5125,"color":"#fff"},{"offset":0.52125,"color":"#fff"},{"offset":0.52125,"color":"#333"},{"offset":0.525,"color":"#333"},
{"offset":0.525,"color":"#fff"},{"offset":0.53375,"color":"#fff"},{"offset":0.53375,"color":"#333"},{"offset":0.5375,"color":"#333"},
{"offset":0.5375,"color":"#fff"},{"offset":0.54625,"color":"#fff"},{"offset":0.54625,"color":"#333"},{"offset":0.55,"color":"#333"},
{"offset":0.55,"color":"#fff"},{"offset":0.55875,"color":"#fff"},{"offset":0.55875,"color":"#333"},{"offset":0.5625,"color":"#333"},
{"offset":0.5625,"color":"#fff"},{"offset":0.57125,"color":"#fff"},{"offset":0.57125,"color":"#333"},{"offset":0.575,"color":"#333"},
{"offset":0.575,"color":"#fff"},{"offset":0.58375,"color":"#fff"},{"offset":0.58375,"color":"#333"},{"offset":0.5875,"color":"#333"},
{"offset":0.5875,"color":"#fff"},{"offset":0.59625,"color":"#fff"},{"offset":0.59625,"color":"#333"},{"offset":0.6,"color":"#333"},
{"offset":0.6,"color":"#fff"},{"offset":0.60875,"color":"#fff"},{"offset":0.60875,"color":"#333"},{"offset":0.6125,"color":"#333"},
{"offset":0.6125,"color":"#fff"},{"offset":0.62125,"color":"#fff"},{"offset":0.62125,"color":"#333"},{"offset":0.625,"color":"#333"},
{"offset":0.625,"color":"#fff"},{"offset":0.63375,"color":"#fff"},{"offset":0.63375,"color":"#333"},{"offset":0.6375,"color":"#333"},
{"offset":0.6375,"color":"#fff"},{"offset":0.64625,"color":"#fff"},{"offset":0.64625,"color":"#333"},{"offset":0.65,"color":"#333"},
{"offset":0.65,"color":"#fff"},{"offset":0.65875,"color":"#fff"},{"offset":0.65875,"color":"#333"},{"offset":0.6625,"color":"#333"},
{"offset":0.6625,"color":"#fff"},{"offset":0.67125,"color":"#fff"},{"offset":0.67125,"color":"#333"},{"offset":0.675,"color":"#333"},
{"offset":0.675,"color":"#fff"},{"offset":0.68375,"color":"#fff"},{"offset":0.68375,"color":"#333"},{"offset":0.6875,"color":"#333"},
{"offset":0.6875,"color":"#fff"},{"offset":0.69625,"color":"#fff"},{"offset":0.69625,"color":"#333"},{"offset":0.7,"color":"#333"},
{"offset":0.7,"color":"#fff"},{"offset":0.70875,"color":"#fff"},{"offset":0.70875,"color":"#333"},{"offset":0.7125,"color":"#333"},
{"offset":0.7125,"color":"#fff"},{"offset":0.72125,"color":"#fff"},{"offset":0.72125,"color":"#333"},{"offset":0.725,"color":"#333"},
{"offset":0.725,"color":"#fff"},{"offset":0.73375,"color":"#fff"},{"offset":0.73375,"color":"#333"},{"offset":0.7375,"color":"#333"},
{"offset":0.7375,"color":"#fff"},{"offset":0.74625,"color":"#fff"},{"offset":0.74625,"color":"#333"},{"offset":0.75,"color":"#333"},
{"offset":0.75,"color":"#fff"},{"offset":0.75875,"color":"#fff"},{"offset":0.75875,"color":"#333"},{"offset":0.7625,"color":"#333"},
{"offset":0.7625,"color":"#fff"},{"offset":0.77125,"color":"#fff"},{"offset":0.77125,"color":"#333"},{"offset":0.775,"color":"#333"},
{"offset":0.775,"color":"#fff"},{"offset":0.78375,"color":"#fff"},{"offset":0.78375,"color":"#333"},{"offset":0.7875,"color":"#333"},
{"offset":0.7875,"color":"#fff"},{"offset":0.79625,"color":"#fff"},{"offset":0.79625,"color":"#333"},{"offset":0.8,"color":"#333"},
{"offset":0.8,"color":"#fff"},{"offset":0.80875,"color":"#fff"},{"offset":0.80875,"color":"#333"},{"offset":0.8125,"color":"#333"},
{"offset":0.8125,"color":"#fff"},{"offset":0.82125,"color":"#fff"},{"offset":0.82125,"color":"#333"},{"offset":0.825,"color":"#333"},
{"offset":0.825,"color":"#fff"},{"offset":0.83375,"color":"#fff"},{"offset":0.83375,"color":"#333"},{"offset":0.8375,"color":"#333"},
{"offset":0.8375,"color":"#fff"},{"offset":0.84625,"color":"#fff"},{"offset":0.84625,"color":"#333"},{"offset":0.85,"color":"#333"},
{"offset":0.85,"color":"#fff"},{"offset":0.85875,"color":"#fff"},{"offset":0.85875,"color":"#333"},{"offset":0.8625,"color":"#333"},
{"offset":0.8625,"color":"#fff"},{"offset":0.87125,"color":"#fff"},{"offset":0.87125,"color":"#333"},{"offset":0.875,"color":"#333"},
{"offset":0.875,"color":"#fff"},{"offset":0.88375,"color":"#fff"},{"offset":0.88375,"color":"#333"},{"offset":0.8875,"color":"#333"},
{"offset":0.8875,"color":"#fff"},{"offset":0.89625,"color":"#fff"},{"offset":0.89625,"color":"#333"},{"offset":0.9,"color":"#333"},
{"offset":0.9,"color":"#fff"},{"offset":0.90875,"color":"#fff"},{"offset":0.90875,"color":"#333"},{"offset":0.9125,"color":"#333"},
{"offset":0.9125,"color":"#fff"},{"offset":0.92125,"color":"#fff"},{"offset":0.92125,"color":"#333"},{"offset":0.925,"color":"#333"},
{"offset":0.925,"color":"#fff"},{"offset":0.93375,"color":"#fff"},{"offset":0.93375,"color":"#333"},{"offset":0.9375,"color":"#333"},
{"offset":0.9375,"color":"#fff"},{"offset":0.94625,"color":"#fff"},{"offset":0.94625,"color":"#333"},{"offset":0.95,"color":"#333"},
{"offset":0.95,"color":"#fff"},{"offset":0.95875,"color":"#fff"},{"offset":0.95875,"color":"#333"},{"offset":0.9625,"color":"#333"}
]}}},
{"mark":{"type":"rule","color":"#333","strokeWidth":2.5},"encoding":{"y":{"field":"low","type":"quantitative","title":"iso-MGS production titers (mg/L)","scale":{"domain":[0,37.5],"nice":false}},"y2":{"field":"high"}}},
{"mark":{"type":"tick","color":"#333","size":16,"thickness":2.5,"opacity":1},"encoding":{"y":{"field":"low","type":"quantitative","title":"iso-MGS production titers (mg/L)","scale":{"domain":[0,37.5],"nice":false}}}},
{"mark":{"type":"tick","color":"#333","size":16,"thickness":2.5,"opacity":1},"encoding":{"y":{"field":"high","type":"quantitative","title":"iso-MGS production titers (mg/L)","scale":{"domain":[0,37.5],"nice":false}}}}
],
"config":{
"view":{"stroke":"#222","strokeWidth":2.5},
"axis":{"domain":false,"grid":false,"tickSize":14,"tickWidth":2.5,"tickColor":"#222","labelFont":"Liberation Sans","labelFontSize":31,"labelColor":"#111","titleFont":"Liberation Serif","titleFontSize":42,"titleFontWeight":"normal","titleColor":"#111"}
}
}
